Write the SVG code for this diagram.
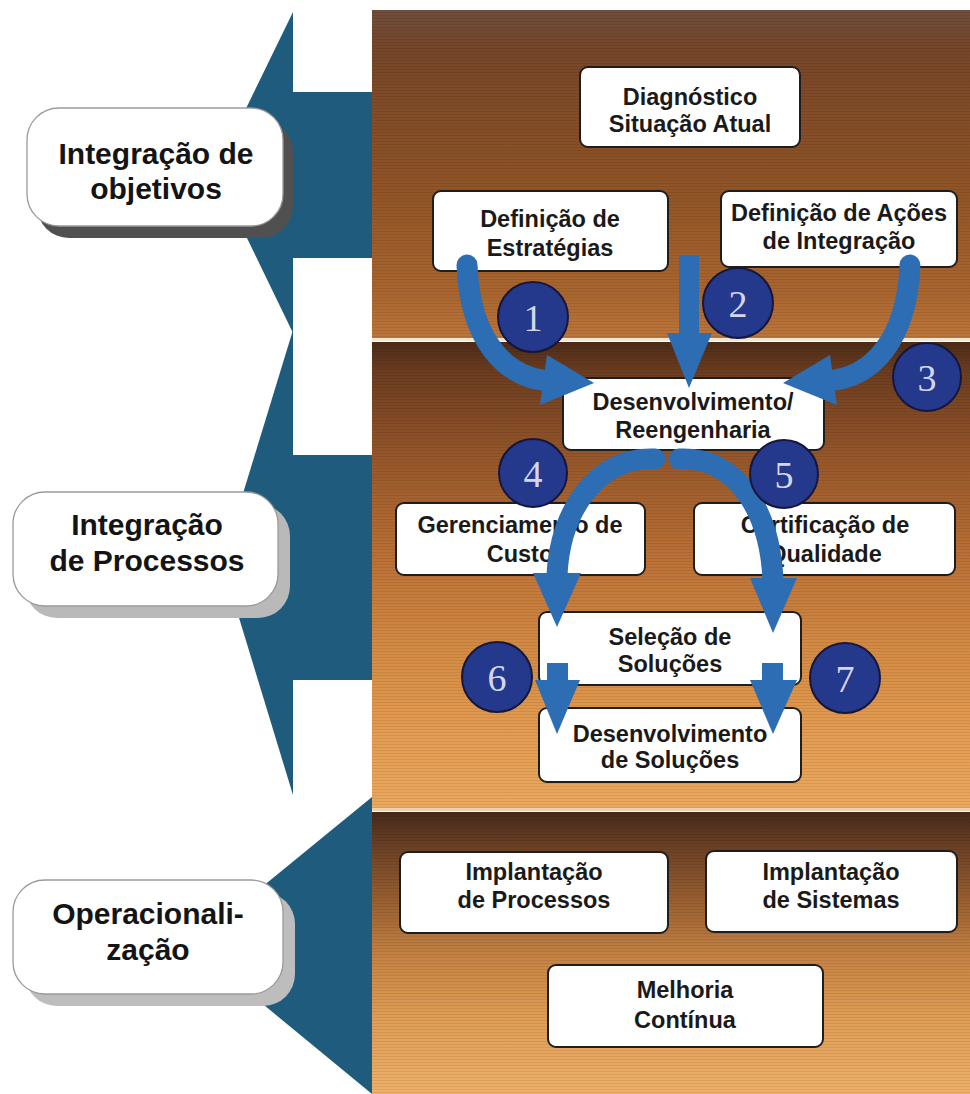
<svg xmlns="http://www.w3.org/2000/svg" width="970" height="1094" viewBox="0 0 970 1094">
  <defs>
    <style>
      .node rect { fill: #ffffff; stroke: #1e1e1e; stroke-width: 2; }
      .node text { font-family: "Liberation Sans", Arial, sans-serif; font-weight: bold; font-size: 23.5px; fill: #1a1a1a; text-anchor: middle; }
      .stage .face { fill: #ffffff; stroke: #9a9a9a; stroke-width: 1.3; }
      .stage text { font-family: "Liberation Sans", Arial, sans-serif; font-weight: bold; font-size: 30px; fill: #141414; text-anchor: middle; }
      .pointer { fill: #1e5b7d; }
      .flow { fill: none; stroke: #2d6db4; stroke-width: 21; }
      .head { fill: #2d6db4; }
      .step circle { fill: #24388c; stroke: #15163a; stroke-width: 2; }
      .step text { font-family: "Liberation Serif", "Times New Roman", serif; font-size: 38px; fill: #d4d6ec; text-anchor: middle; }
    </style>
    <linearGradient id="bandTop" x1="0" y1="0" x2="0" y2="1">
      <stop offset="0" stop-color="#6e4d3c"/>
      <stop offset="0.12" stop-color="#764629"/>
      <stop offset="0.5" stop-color="#8d5226"/>
      <stop offset="0.85" stop-color="#a9652f"/>
      <stop offset="1" stop-color="#bd763a"/>
    </linearGradient>
    <linearGradient id="bandMid" x1="0" y1="0" x2="0" y2="1">
      <stop offset="0" stop-color="#4e2b18"/>
      <stop offset="0.06" stop-color="#6a3c20"/>
      <stop offset="0.25" stop-color="#97572a"/>
      <stop offset="0.45" stop-color="#b96f35"/>
      <stop offset="0.65" stop-color="#d38a43"/>
      <stop offset="0.85" stop-color="#e49d52"/>
      <stop offset="1" stop-color="#eba95e"/>
    </linearGradient>
    <linearGradient id="bandLow" x1="0" y1="0" x2="0" y2="1">
      <stop offset="0" stop-color="#48291a"/>
      <stop offset="0.12" stop-color="#6a4025"/>
      <stop offset="0.32" stop-color="#9a6032"/>
      <stop offset="0.52" stop-color="#c78343"/>
      <stop offset="0.72" stop-color="#df9c54"/>
      <stop offset="1" stop-color="#eeb06a"/>
    </linearGradient>
    <pattern id="grain" width="5" height="3" patternUnits="userSpaceOnUse">
      <rect width="5" height="1" fill="#000000" opacity="0.08"/>
    </pattern>
  </defs>

  <!-- background -->
  <rect width="970" height="1094" fill="#ffffff"/>

  <!-- left-pointing stage arrows -->
  <g id="stage-arrows">
    <rect class="pointer" x="291" y="92" width="82" height="166"/>
    <polygon class="pointer" points="293,12 215,172 293,333"/>
    <rect class="pointer" x="291" y="455" width="82" height="225"/>
    <polygon class="pointer" points="293,330 222,562 293,795"/>
    <polygon class="pointer" points="372,797 191,945 372,1094"/>
  </g>

  <!-- horizontal bands -->
  <g id="bands">
    <rect x="372" y="10" width="598" height="330" fill="url(#bandTop)"/>
    <rect x="372" y="342" width="598" height="468" fill="url(#bandMid)"/>
    <rect x="372" y="812" width="598" height="282" fill="url(#bandLow)"/>
    <rect x="372" y="10" width="598" height="1084" fill="url(#grain)"/>
    <rect x="372" y="338" width="598" height="3" fill="#f1e6d2"/>
    <rect x="372" y="808" width="598" height="3" fill="#ecd2ac"/>
  </g>

  <!-- stage labels -->
  <g id="stage-objetivos" class="stage">
    <rect x="37" y="120" width="256" height="118" rx="32" fill="#505050"/>
    <rect class="face" x="27" y="108" width="256" height="118" rx="32"/>
    <text x="156" y="164" font-size="31">Integração de</text>
    <text x="156" y="199" font-size="31">objetivos</text>
  </g>
  <g id="stage-processos" class="stage">
    <rect x="25" y="504" width="265" height="114" rx="32" fill="#b9b9b9"/>
    <rect class="face" x="13" y="492" width="265" height="114" rx="32"/>
    <text x="147" y="535">Integração</text>
    <text x="147" y="571">de Processos</text>
  </g>
  <g id="stage-operacionalizacao" class="stage">
    <rect x="25" y="892" width="270" height="114" rx="32" fill="#bdbdbd"/>
    <rect class="face" x="13" y="880" width="270" height="114" rx="32"/>
    <text x="148" y="924">Operacionali-</text>
    <text x="148" y="960">zação</text>
  </g>

  <!-- process nodes -->
  <g id="node-diagnostico" class="node">
    <rect x="580" y="67" width="220" height="80" rx="8"/>
    <text x="690" y="105">Diagnóstico</text>
    <text x="690" y="132">Situação Atual</text>
  </g>
  <g id="node-estrategias" class="node">
    <rect x="433" y="191" width="235" height="80" rx="8"/>
    <text x="550" y="227">Definição de</text>
    <text x="550" y="256">Estratégias</text>
  </g>
  <g id="node-acoes" class="node">
    <rect x="721" y="191" width="236" height="76" rx="8"/>
    <text x="839" y="221">Definição de Ações</text>
    <text x="839" y="249">de Integração</text>
  </g>
  <g id="node-reengenharia" class="node">
    <rect x="563" y="378" width="261" height="72" rx="8"/>
    <text x="693" y="410">Desenvolvimento/</text>
    <text x="693" y="438">Reengenharia</text>
  </g>
  <g id="node-custo" class="node">
    <rect x="396" y="503" width="249" height="72" rx="8"/>
    <text x="520" y="533">Gerenciamento de</text>
    <text x="520" y="562">Custo</text>
  </g>
  <g id="node-qualidade" class="node">
    <rect x="694" y="503" width="261" height="72" rx="8"/>
    <text x="825" y="533">Certificação de</text>
    <text x="825" y="562">Qualidade</text>
  </g>
  <g id="node-selecao" class="node">
    <rect x="539" y="612" width="262" height="73" rx="8"/>
    <text x="670" y="645">Seleção de</text>
    <text x="670" y="672">Soluções</text>
  </g>
  <g id="node-desenv-solucoes" class="node">
    <rect x="539" y="708" width="262" height="74" rx="8"/>
    <text x="670" y="742">Desenvolvimento</text>
    <text x="670" y="768">de Soluções</text>
  </g>
  <g id="node-impl-processos" class="node">
    <rect x="400" y="852" width="268" height="81" rx="8"/>
    <text x="534" y="880">Implantação</text>
    <text x="534" y="908">de Processos</text>
  </g>
  <g id="node-impl-sistemas" class="node">
    <rect x="706" y="851" width="251" height="81" rx="8"/>
    <text x="831" y="880">Implantação</text>
    <text x="831" y="908">de Sistemas</text>
  </g>
  <g id="node-melhoria" class="node">
    <rect x="548" y="965" width="275" height="82" rx="8"/>
    <text x="685" y="998">Melhoria</text>
    <text x="685" y="1028">Contínua</text>
  </g>

  <!-- connectors -->
  <g id="connectors">
    <path class="flow" stroke-linecap="round" d="M467,265 C470,340 505,378 550,381"/>
    <polygon class="head" points="547,355 594,383 540,405"/>

    <rect class="head" x="679" y="255" width="20" height="80"/>
    <polygon class="head" points="667,333 712,333 689,388"/>

    <path class="flow" stroke-linecap="round" d="M910,265 C907,340 872,378 827,381"/>
    <polygon class="head" points="830,355 783,383 837,405"/>

    <path class="flow" stroke-linecap="round" d="M655,459 C598,456 560,510 557,575"/>
    <polygon class="head" points="533,573 581,573 557,627"/>

    <path class="flow" stroke-linecap="round" d="M679,459 C737,456 770,512 773,580"/>
    <polygon class="head" points="750,578 797,578 773,633"/>

    <rect class="head" x="547" y="663" width="21" height="19"/>
    <polygon class="head" points="535,680 580,680 557,734"/>

    <rect class="head" x="762" y="663" width="21" height="19"/>
    <polygon class="head" points="750,680 797,680 773,734"/>
  </g>

  <!-- step numbers -->
  <g id="steps">
    <g id="step-1" class="step"><circle cx="533" cy="317" r="35"/><text x="533" y="331">1</text></g>
    <g id="step-2" class="step"><circle cx="738" cy="303" r="35"/><text x="738" y="317">2</text></g>
    <g id="step-3" class="step"><circle cx="927" cy="377" r="34"/><text x="927" y="391">3</text></g>
    <g id="step-4" class="step"><circle cx="533" cy="473" r="34"/><text x="533" y="487">4</text></g>
    <g id="step-5" class="step"><circle cx="784" cy="474" r="34"/><text x="784" y="488">5</text></g>
    <g id="step-6" class="step"><circle cx="497" cy="677" r="35"/><text x="497" y="691">6</text></g>
    <g id="step-7" class="step"><circle cx="845" cy="678" r="35"/><text x="845" y="692">7</text></g>
  </g>
</svg>
